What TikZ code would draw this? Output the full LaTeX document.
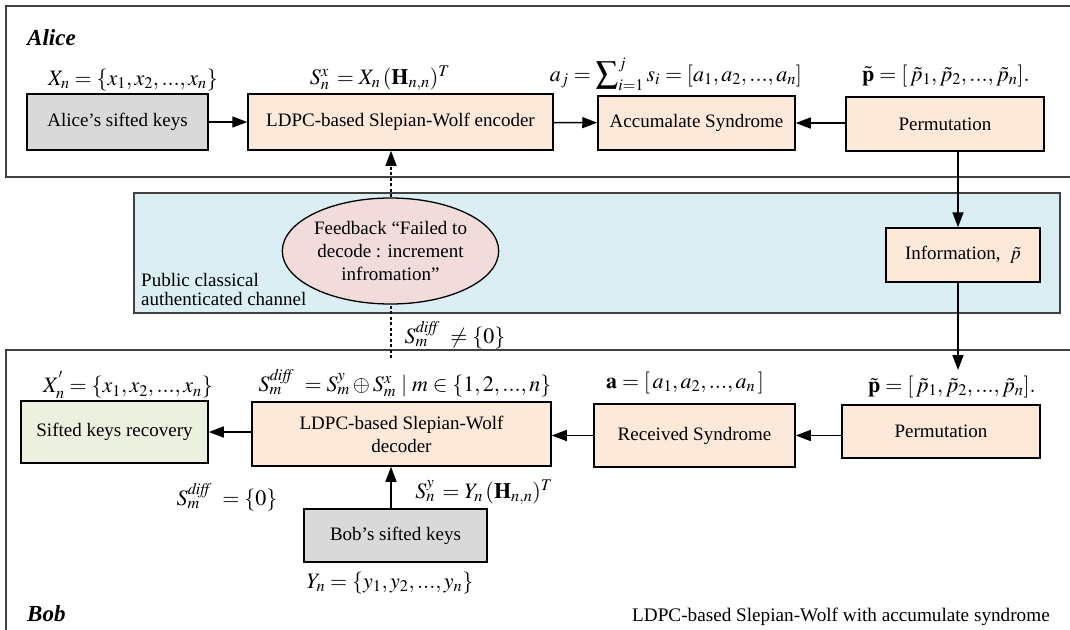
\documentclass[tikz,border=0pt]{standalone}
\usepackage{mathptmx}
\usepackage{fontspec}
\setmainfont{Liberation Serif}
\usetikzlibrary{arrows.meta,shapes.geometric,calc}

\definecolor{keygray}{HTML}{D9D9D9}
\definecolor{peach}{HTML}{FDE9D9}
\definecolor{mint}{HTML}{EBF1DE}
\definecolor{chanblue}{HTML}{DAEEF3}
\definecolor{rose}{HTML}{F2DCDB}
\definecolor{framegray}{HTML}{404040}

\begin{document}
\begin{tikzpicture}[x=1pt,y=-1pt,
  font=\fontsize{19}{23}\selectfont,
  box/.style={draw=black, line width=1.5pt, inner sep=0pt, align=center},
  frame/.style={draw=framegray, line width=1.2pt},
  link/.style={line width=1.5pt, -{Triangle[length=15pt,width=11pt]}},
  feedback/.style={line width=1.5pt, dash pattern=on 3pt off 2.5pt},
  mlab/.style={font=\fontsize{22}{26}\selectfont, inner sep=0pt},
  party/.style={font=\bfseries\itshape\fontsize{23}{27}\selectfont, inner sep=0pt, anchor=west},
]
\useasboundingbox (0,0) rectangle (1070,629);
\clip (0,0) rectangle (1070,629);

% party frames and the public channel
\draw[frame] (6,6) rectangle (1090,177);
\draw[frame] (6,350) rectangle (1090,650);
\draw[frame, fill=chanblue] (134,193) rectangle (1060,313);

% Alice side
\node[party] (alice) at (27,38) {Alice};
\node[mlab] (xnlab) at (133,80) {$X_n=\{x_1,x_2,...,x_n\}$};
\node[mlab] (snxlab) at (380,78) {$S_n^x\,=X_n\,(\mathbf{H}_{n,n})^T$};
\node[mlab] (ajlab) at (676,74) {$a_j=\displaystyle\sum\nolimits_{i=1}^{j}s_i=[a_1,a_2,...,a_n]$};
\node[mlab] (palab) at (946,76) {$\tilde{\mathbf{p}}=[\,\tilde p_1,\tilde p_2,...,\tilde p_n].$};

\node[box, fill=keygray, minimum width=181pt, minimum height=56pt] (ak) at (117.5,122) {Alice’s sifted keys};
\node[box, fill=peach, minimum width=305pt, minimum height=56pt] (enc) at (400.5,122) {LDPC-based Slepian-Wolf encoder};
\node[box, fill=peach, minimum width=197pt, minimum height=54pt] (acc) at (696.5,123) {Accumalate Syndrome};
\node[box, fill=peach, minimum width=198pt, minimum height=54pt] (perm) at (945,124) {Permutation};

% public channel
\node[box, fill=peach, minimum width=154pt, minimum height=54pt] (info) at (963,255) {Information,\ \ $\tilde p$};
\node[box, ellipse, fill=rose, line width=1.3pt, minimum width=197pt, minimum height=106pt] (fbk) at (390.5,251)
  {Feedback “Failed to\\decode : increment\\infromation”};
\node[anchor=north west, align=left, inner sep=0pt, font=\fontsize{19}{19}\selectfont] (pub) at (141,273)
  {Public classical\\authenticated channel};
\node[mlab] (nzlab) at (455,335) {$S_m^{\mathit{diff}}\ \ne\{0\}$};

% Bob side
\node[mlab] (xplab) at (128,385) {$X_n^{'}=\{x_1,x_2,...,x_n\}$};
\node[mlab] (sdlab) at (405,383) {$S_m^{\mathit{diff}}\ =S_m^y\oplus S_m^x\mid m\in\{1,2,...,n\}$};
\node[mlab] (alab) at (685,383) {$\mathbf{a}=[\,a_1,a_2,...,a_n\,]$};
\node[mlab] (pblab) at (952,387) {$\tilde{\mathbf{p}}=[\,\tilde p_1,\tilde p_2,...,\tilde p_n].$};

\node[box, fill=mint, minimum width=187pt, minimum height=62pt] (rec) at (114.5,432) {Sifted keys recovery};
\node[box, fill=peach, minimum width=299pt, minimum height=64pt] (dec) at (401.5,434) {LDPC-based Slepian-Wolf\\decoder};
\node[box, fill=peach, minimum width=201pt, minimum height=63pt] (rcv) at (694.5,435.5) {Received Syndrome};
\node[box, fill=peach, minimum width=198pt, minimum height=53pt] (bperm) at (941,431.5) {Permutation};
\node[box, fill=keygray, minimum width=183pt, minimum height=53pt] (bk) at (395.5,535.5) {Bob’s sifted keys};

\node[mlab] (zlab) at (227,497) {$S_m^{\mathit{diff}}\ =\{0\}$};
\node[mlab] (snylab) at (484,492) {$S_n^y\,=Y_n\,(\mathbf{H}_{n,n})^T$};
\node[mlab] (ynlab) at (390,583) {$Y_n=\{y_1,y_2,...,y_n\}$};
\node[party] (bob) at (27,614) {Bob};
\node[anchor=west, inner sep=0pt, font=\fontsize{19.2}{22}\selectfont] (cap) at (632,617)
  {LDPC-based Slepian-Wolf with accumulate syndrome};

% helper positions for the vertical connectors
\coordinate (xl) at (958,0);
\coordinate (xd) at (391,0);
\coordinate (pin) at (958,370);
\coordinate (fbfoot) at (391,358);

% connectors
\draw[link] (ak) -- (enc);
\draw[link] (enc) -- (acc);
\draw[link] (perm.west |- acc.east) -- (acc.east);
\draw[link] (perm.south -| xl) -- (info.north -| xl);
\draw[link] (info.south -| xl) -- (pin);
\draw[link] (bperm.west |- rcv.east) -- (rcv.east);
\draw[link] (rcv.west) -- (dec.east |- rcv.west);
\draw[link] (dec.west |- rec.east) -- (rec.east);
\draw[link] (bk.north -| xd) -- (dec.south -| xd);
\draw[feedback] (fbfoot) -- (fbk.south -| xd);
\draw[feedback, -{Triangle[length=15pt,width=11pt]}] (fbk.north -| xd) -- (enc.south -| xd);
\end{tikzpicture}
\end{document}
